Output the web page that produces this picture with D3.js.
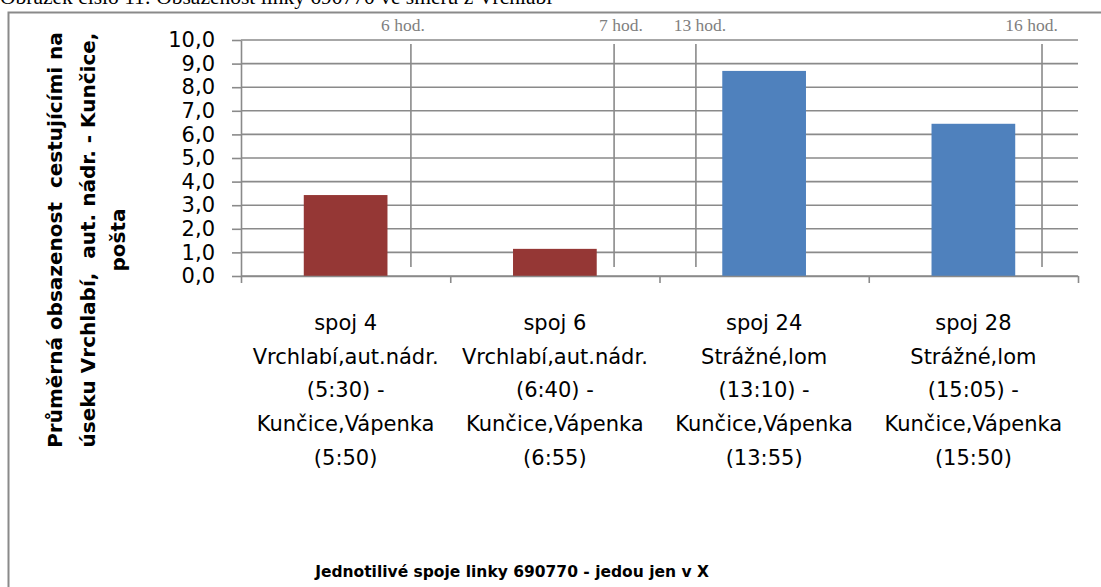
<!DOCTYPE html>
<html>
<head>
<meta charset="utf-8">
<script src="https://cdn.jsdelivr.net/npm/d3@7"></script>
<style>
  body { margin: 0; background: #fff; }
  svg { display: block; }
</style>
</head>
<body>
<div id="chart"></div>
<script>
// data
var spoje = ["spoj 4", "spoj 6", "spoj 24", "spoj 28"];
var popisky = [
  ["spoj 4", "Vrchlabí,aut.nádr.", "(5:30) -", "Kunčice,Vápenka", "(5:50)"],
  ["spoj 6", "Vrchlabí,aut.nádr.", "(6:40) -", "Kunčice,Vápenka", "(6:55)"],
  ["spoj 24", "Strážné,lom", "(13:10) -", "Kunčice,Vápenka", "(13:55)"],
  ["spoj 28", "Strážné,lom", "(15:05) -", "Kunčice,Vápenka", "(15:50)"]
];
var obsazenost = [3.43, 1.15, 8.69, 6.45];
var barvy = ["#953735", "#953735", "#4f81bd", "#4f81bd"];
var yTicks = [0, 1, 2, 3, 4, 5, 6, 7, 8, 9, 10];

// hour markers, placed in category units along the x axis
var hodiny = ["6 hod.", "7 hod.", "13 hod.", "16 hod."];
var hodinyCara = [0.812, 1.783, 2.174, 3.828];
var hodinyText = [0.774, 1.816, 2.193, 3.778];

var svgWidth = 1101, svgHeight = 587;
var margin = { top: 40, left: 241, right: 23, bottom: 311 };
var width = svgWidth - margin.left - margin.right;
var height = svgHeight - margin.top - margin.bottom;

var svg = d3.select("#chart").append("svg")
  .attr("width", svgWidth)
  .attr("height", svgHeight);

var grey = "#8a8a8a";

// caption above the chart (cut off at the top in the source)
svg.append("text")
  .attr("x", 0)
  .attr("y", 4)
  .attr("font-family", "Liberation Serif, serif")
  .attr("font-size", 21.5)
  .text("Obrázek číslo 11: Obsazenost linky 690770 ve směru z Vrchlabí");

// chart frame
svg.append("path")
  .attr("d", "M8.5,587V12.5H1101")
  .attr("fill", "none")
  .attr("stroke", grey)
  .attr("stroke-width", 2);

var chartGroup = svg.append("g")
  .attr("transform", `translate(${margin.left}, ${margin.top})`);

var y = d3.scaleLinear().domain([0, 10]).range([height, 0]);
var xBand = d3.scaleBand().domain(spoje).range([0, width])
  .paddingInner(0.6).paddingOuter(0.3);
var xCat = d3.scaleLinear().domain([0, spoje.length]).range([0, width]);

var cz = d3.formatLocale({ decimal: ",", thousands: " ", grouping: [3], currency: ["", " Kč"] });

// gridlines
chartGroup.selectAll(".grid")
  .data(yTicks)
  .enter()
  .append("line")
  .attr("x1", 0)
  .attr("x2", width)
  .attr("y1", d => y(d))
  .attr("y2", d => y(d))
  .attr("stroke", grey)
  .attr("stroke-width", 1.6);

// y axis
var leftAxis = d3.axisLeft(y)
  .tickValues(yTicks)
  .tickFormat(cz.format(".1f"))
  .tickSize(9)
  .tickSizeOuter(0)
  .tickPadding(17);

var yAxisG = chartGroup.append("g").call(leftAxis);
yAxisG.selectAll("path, line").attr("stroke", grey).attr("stroke-width", 1.6);
yAxisG.selectAll("text")
  .attr("font-family", "DejaVu Sans, sans-serif")
  .attr("font-size", 21)
  .attr("fill", "#000");

// hour marker lines
chartGroup.selectAll(".hod")
  .data(hodinyCara)
  .enter()
  .append("line")
  .attr("x1", d => xCat(d))
  .attr("x2", d => xCat(d))
  .attr("y1", 4)
  .attr("y2", 227)
  .attr("stroke", grey)
  .attr("stroke-width", 1.6);

svg.selectAll(".hodText")
  .data(hodiny)
  .enter()
  .append("text")
  .attr("x", (d, i) => margin.left + xCat(hodinyText[i]))
  .attr("y", 31)
  .attr("text-anchor", "middle")
  .attr("font-family", "Liberation Serif, serif")
  .attr("font-size", 17.5)
  .attr("fill", "#7f7f7f")
  .text(d => d);

// bars
chartGroup.selectAll("rect")
  .data(obsazenost)
  .enter()
  .append("rect")
  .attr("x", (d, i) => xBand(spoje[i]))
  .attr("y", d => y(d))
  .attr("width", xBand.bandwidth())
  .attr("height", d => y(0) - y(d))
  .attr("fill", (d, i) => barvy[i]);

// x axis (ticks between categories)
var bottomAxis = d3.axisBottom(xCat)
  .tickValues(d3.range(0, spoje.length + 1))
  .tickFormat("")
  .tickSize(7)
  .tickSizeOuter(0);

var xAxisG = chartGroup.append("g")
  .attr("transform", `translate(0, ${height})`)
  .call(bottomAxis);
xAxisG.selectAll("path, line").attr("stroke", grey).attr("stroke-width", 1.6);

// category labels
var catText = chartGroup.selectAll(".cat")
  .data(popisky)
  .enter()
  .append("text")
  .attr("text-anchor", "middle")
  .attr("font-family", "DejaVu Sans, sans-serif")
  .attr("font-size", 21)
  .attr("fill", "#000");

catText.selectAll("tspan")
  .data((d, i) => d.map(t => ({ t: t, i: i })))
  .enter()
  .append("tspan")
  .attr("x", d => xBand(spoje[d.i]) + xBand.bandwidth() / 2)
  .attr("y", (d, j) => height + 54 + j * 33.7)
  .text(d => d.t);

// axis titles
var yTitle = svg.append("text")
  .attr("transform", "translate(0, 240) rotate(-90)")
  .attr("text-anchor", "middle")
  .attr("font-family", "DejaVu Sans, sans-serif")
  .attr("font-weight", "bold")
  .attr("font-size", 20)
  .attr("fill", "#000");

["Průměrná obsazenost  cestujícími na", "úseku Vrchlabí,  aut. nádr. - Kunčice,", "pošta"]
  .forEach(function(line, i) {
    yTitle.append("tspan")
      .attr("x", 0)
      .attr("y", [62, 95, 125][i])
      .attr("xml:space", "preserve")
      .style("white-space", "pre")
      .text(line);
  });

svg.append("text")
  .attr("x", 512)
  .attr("y", 577)
  .attr("text-anchor", "middle")
  .attr("font-family", "DejaVu Sans, sans-serif")
  .attr("font-weight", "bold")
  .attr("font-size", 15.5)
  .attr("fill", "#000")
  .text("Jednotilivé spoje linky 690770 - jedou jen v X");
</script>
</body>
</html>
